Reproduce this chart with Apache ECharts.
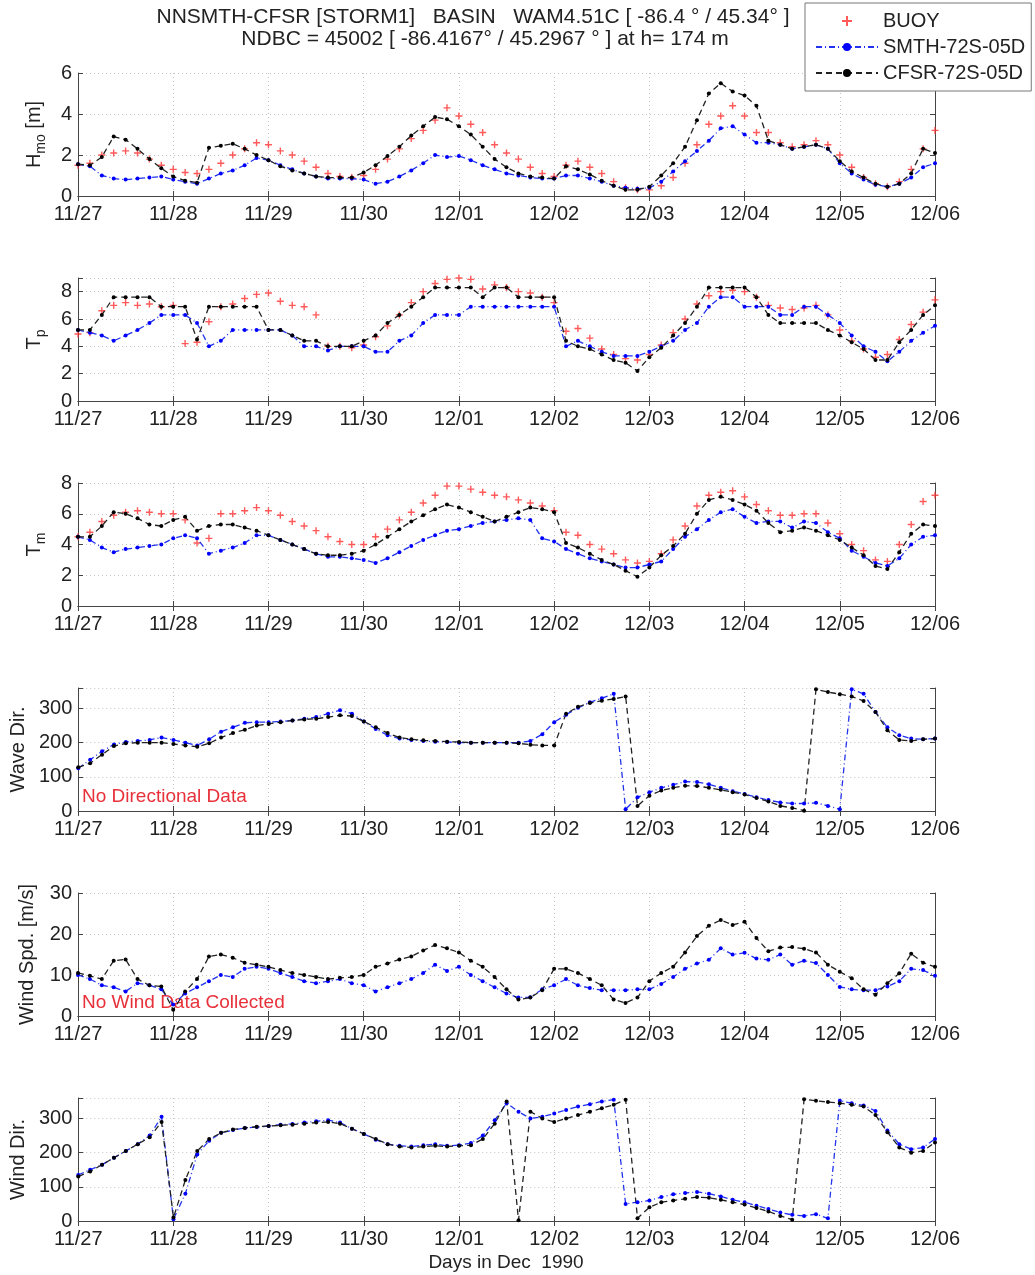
<!DOCTYPE html>
<html>
<head>
<meta charset="utf-8">
<title>NNSMTH-CFSR STORM1 - NDBC 45002</title>
<script src="https://cdn.jsdelivr.net/npm/echarts@6/dist/echarts.min.js"></script>
<style>
  html, body { margin: 0; padding: 0; background: #fff; }
  #main { width: 1035px; height: 1275px; }
</style>
</head>
<body>
<div id="main"></div>
<script>
// time axis: 3-hourly samples from 11/27 00h to 12/06 00h
const days = ['11/27', '11/28', '11/29', '11/30', '12/01', '12/02', '12/03', '12/04', '12/05', '12/06'];
const hours = ['00', '03', '06', '09', '12', '15', '18', '21'];

// significant wave height Hmo [m]
const hmoBuoy = [
  1.5, 1.6, 2.0, 2.1, 2.2, 2.1, 1.8, 1.5,
  1.3, 1.15, 1.1, 1.3, 1.6, 2.0, 2.3, 2.6,
  2.5, 2.2, 2.0, 1.7, 1.4, 1.1, 0.95, 0.9,
  1.0, 1.3, 1.8, 2.3, 2.8, 3.2, 3.7, 4.3,
  3.9, 3.5, 3.1, 2.5, 2.1, 1.8, 1.4, 1.1,
  0.95, 1.5, 1.7, 1.4, 1.1, 0.7, 0.4, 0.3,
  0.3, 0.5, 0.9, 1.6, 2.5, 3.5, 3.9, 4.4,
  3.9, 3.1, 3.1, 2.6, 2.4, 2.5, 2.7, 2.5,
  2.0, 1.4, 0.9, 0.6, 0.45, 0.7, 1.3, 2.3,
  3.2
];
const hmoSmth = [
  1.55, 1.45, 1.0, 0.85, 0.8, 0.85, 0.9, 0.95,
  0.8, 0.7, 0.6, 0.85, 1.1, 1.25, 1.5, 1.85,
  1.75, 1.5, 1.3, 1.1, 0.95, 0.85, 0.85, 0.85,
  0.8, 0.6, 0.7, 0.95, 1.25, 1.6, 2.0, 1.9,
  1.95, 1.75, 1.5, 1.3, 1.1, 1.0, 0.9, 0.85,
  0.85, 1.0, 1.0, 0.85, 0.7, 0.5, 0.4, 0.35,
  0.4, 0.7, 1.2, 1.7, 2.2, 2.7, 3.3, 3.4,
  3.0, 2.6, 2.6, 2.5, 2.3, 2.4, 2.5, 2.3,
  1.6, 1.1, 0.8, 0.55, 0.45, 0.6, 0.9, 1.4,
  1.6
];
const hmoCfsr = [
  1.55, 1.5, 1.9, 2.9, 2.75, 2.3, 1.8, 1.35,
  0.95, 0.75, 0.65, 2.35, 2.45, 2.55, 2.3, 2.0,
  1.75, 1.45, 1.25, 1.1, 0.95, 0.9, 0.9, 0.9,
  1.15, 1.5, 1.95, 2.4, 2.95, 3.4, 3.85, 3.75,
  3.4, 3.0, 2.4, 1.8, 1.4, 1.1, 0.95, 0.9,
  0.85, 1.45, 1.3, 1.05, 0.75, 0.5, 0.3, 0.3,
  0.45, 1.0, 1.6, 2.4, 3.7, 5.0, 5.5, 5.1,
  4.9, 4.4, 2.7, 2.5, 2.3, 2.4, 2.5, 2.3,
  1.7, 1.2, 0.9, 0.6, 0.45, 0.6, 1.1, 2.3,
  2.1
];

// peak period Tp [s]
const tpBuoy = [
  4.9, 5.0, 6.6, 7.0, 7.2, 7.0, 7.1, 6.9,
  7.0, 4.2, 4.3, 5.8, 6.9, 7.1, 7.5, 7.8,
  7.9, 7.3, 7.0, 6.9, 6.3, 4.0, 4.0, 3.9,
  4.1, 4.7, 5.5, 6.3, 7.2, 8.0, 8.6, 8.9,
  9.0, 8.9, 8.2, 8.5, 8.3, 8.0, 7.9, 7.6,
  7.2, 5.1, 5.3, 4.6, 3.8, 3.4, 3.1, 3.0,
  3.4, 4.1, 5.0, 6.0, 7.1, 7.7, 8.0, 8.1,
  8.0, 7.6, 7.0, 6.8, 6.7, 6.8, 7.0, 6.3,
  5.2, 4.4, 3.8, 3.2, 3.4, 4.5, 5.6, 6.5,
  7.4
];
const tpSmth = [
  5.2, 5.0, 4.8, 4.4, 4.8, 5.2, 5.7, 6.3,
  6.3, 6.3, 5.7, 4.0, 4.4, 5.2, 5.2, 5.2,
  5.2, 5.2, 4.8, 4.0, 4.0, 3.7, 4.0, 4.0,
  4.0, 3.6, 3.6, 4.4, 4.8, 5.7, 6.3, 6.3,
  6.3, 6.9, 6.9, 6.9, 6.9, 6.9, 6.9, 6.9,
  6.9, 4.0, 4.4, 4.0, 3.6, 3.3, 3.3, 3.3,
  3.6, 4.0, 4.4, 5.2, 5.7, 6.9, 7.6, 7.6,
  6.9, 6.9, 6.9, 6.3, 6.3, 6.9, 6.9, 6.3,
  5.7, 4.8, 4.0, 3.6, 2.9, 3.6, 4.4, 5.0,
  5.5
];
const tpCfsr = [
  5.2, 5.2, 6.3, 7.6, 7.6, 7.6, 7.6, 6.9,
  6.9, 6.9, 4.5, 6.9, 6.9, 6.9, 6.9, 6.9,
  5.2, 5.2, 4.8, 4.4, 4.4, 4.0, 4.0, 4.0,
  4.4, 4.8, 5.7, 6.3, 6.9, 7.6, 8.3, 8.3,
  8.3, 8.3, 7.6, 8.3, 8.3, 7.6, 7.6, 7.6,
  7.6, 4.4, 4.0, 3.8, 3.4, 3.0, 2.8, 2.2,
  3.2, 3.9, 4.8, 5.7, 6.9, 8.3, 8.3, 8.3,
  8.3, 7.6, 6.3, 5.7, 5.7, 5.7, 5.7, 5.2,
  4.8, 4.3, 3.8, 3.0, 3.0, 4.3, 5.2, 6.3,
  7.0
];

// mean period Tm [s]
const tmBuoy = [
  4.5, 4.8, 5.5, 5.9, 6.1, 6.2, 6.1, 6.0,
  6.0, 5.6, 4.1, 4.4, 6.0, 6.0, 6.2, 6.4,
  6.2, 5.9, 5.5, 5.2, 4.9, 4.5, 4.2, 4.0,
  4.0, 4.5, 5.0, 5.6, 6.1, 6.7, 7.2, 7.8,
  7.8, 7.6, 7.4, 7.2, 7.1, 6.9, 6.7, 6.5,
  6.2, 4.8, 4.6, 4.0, 3.7, 3.4, 3.0, 2.8,
  2.9, 3.4, 4.3, 5.2, 6.5, 7.2, 7.4, 7.5,
  7.1, 6.6, 6.2, 5.9, 5.9, 6.0, 6.0, 5.4,
  4.7, 4.0, 3.6, 3.0, 2.9, 4.0, 5.3, 6.8,
  7.2
];
const tmSmth = [
  4.5, 4.3, 3.8, 3.5, 3.7, 3.8, 3.9, 4.0,
  4.4, 4.6, 4.4, 3.4, 3.6, 3.8, 4.1, 4.6,
  4.6, 4.3, 4.0, 3.7, 3.4, 3.2, 3.2, 3.1,
  3.0, 2.8, 3.1, 3.5, 3.9, 4.3, 4.6, 4.9,
  5.0, 5.2, 5.4, 5.5, 5.6, 5.7, 5.6, 4.4,
  4.2, 3.7, 3.4, 3.1, 2.9, 2.7, 2.5, 2.5,
  2.7, 2.9, 3.7, 4.5, 5.0, 5.6, 6.1, 6.3,
  5.8, 5.4, 5.5, 5.5, 5.1, 5.5, 5.4, 4.8,
  4.4, 3.6, 3.2, 2.8, 2.6, 3.1, 4.0, 4.5,
  4.6
];
const tmCfsr = [
  4.5, 4.5, 5.2, 6.1, 6.0, 5.7, 5.3, 5.2,
  5.6, 5.8, 4.9, 5.2, 5.3, 5.3, 5.1, 4.9,
  4.6, 4.3, 4.0, 3.7, 3.4, 3.3, 3.3, 3.4,
  3.6, 4.0, 4.5, 5.0, 5.5, 5.9, 6.3, 6.6,
  6.4, 6.1, 5.8, 5.5, 5.8, 6.1, 6.4, 6.3,
  6.1, 4.1, 3.8, 3.4, 3.0, 2.7, 2.3, 1.9,
  2.5, 3.3, 3.9, 4.7, 6.0, 6.9, 7.1, 6.9,
  6.6, 6.2, 5.4, 4.8, 4.9, 5.1, 4.9, 4.6,
  4.3, 3.8, 3.3, 2.6, 2.4, 3.5, 4.7, 5.3,
  5.2
];

// mean wave direction [deg] (no buoy data)
const wdirSmth = [
  125, 150, 175, 195, 202, 205, 208, 215,
  208, 200, 192, 210, 232, 245, 258, 260,
  260, 262, 265, 270, 275, 285, 295, 285,
  262, 240, 222, 212, 208, 205, 203, 202,
  200, 200, 200, 200, 200, 200, 205, 225,
  260, 282, 302, 318, 330, 343, 5, 40,
  55, 68, 77, 86, 85, 78, 68, 58,
  50, 40, 32, 25, 22, 22, 24, 15,
  5, 356, 343, 290, 245, 222, 212, 210,
  212
];
const wdirCfsr = [
  128, 140, 165, 190, 198, 200, 200, 200,
  196, 192, 188, 198, 215, 228, 238, 250,
  255, 260, 265, 268, 270, 275, 280, 278,
  262, 245, 228, 215, 210, 207, 205, 203,
  202, 200, 200, 200, 200, 198, 194, 192,
  192, 285, 305, 316, 323, 328, 335, 15,
  45, 60, 68, 74, 73, 68, 62, 55,
  48, 38, 28, 15, 9, 1, 356, 348,
  342, 335, 322, 290, 236, 208, 205, 210,
  212
];

// wind speed [m/s] (no buoy data)
const wspdSmth = [
  10.0, 9.0, 7.5, 7.0, 6.0, 8.0, 7.5, 6.5,
  2.8, 5.5, 7.0, 8.5, 10.0, 9.5, 11.5, 12.0,
  11.5, 10.5, 9.5, 8.5, 8.0, 8.5, 9.0, 8.0,
  7.5, 6.0, 7.0, 8.0, 9.0, 10.5, 12.5, 11.0,
  12.0, 10.0, 8.5, 7.0, 5.5, 4.5, 4.6, 6.5,
  7.5, 9.0, 7.5, 6.8, 6.3, 6.3, 6.3, 6.5,
  6.5, 7.8, 9.5, 11.5, 12.8, 13.7, 16.5, 15.0,
  15.4, 14.0, 13.7, 15.0, 12.5, 13.5, 12.9, 10.0,
  7.1, 6.5, 6.3, 6.3, 7.2, 8.5, 11.5, 11.2,
  9.8
];
const wspdCfsr = [
  10.5, 9.8, 9.0, 13.5, 13.8, 9.0, 7.5, 7.2,
  1.5, 6.0, 9.0, 14.5, 15.0, 14.2, 13.0, 12.5,
  12.0, 11.2, 10.5, 10.0, 9.5, 9.0, 9.3, 9.5,
  10.0, 12.0, 12.8, 13.8, 14.5, 16.0, 17.3, 16.5,
  15.5, 13.5, 12.0, 9.5, 6.5, 4.0, 4.5, 6.3,
  11.5, 11.5, 10.5, 9.0, 7.5, 4.0, 3.2, 4.5,
  8.5, 10.5, 12.0, 15.5, 19.5, 22.0, 23.4, 22.2,
  23.0, 19.0, 15.8, 16.7, 16.8, 16.4, 15.5, 12.5,
  10.8, 9.2, 6.5, 5.2, 8.0, 10.4, 15.2, 13.0,
  12.0
];

// wind direction [deg] (no buoy data)
const windDirSmth = [
  135, 150, 165, 185, 205, 225, 250, 305,
  5, 80, 195, 235, 258, 266, 272, 275,
  278, 282, 284, 288, 292, 295, 288, 270,
  255, 238, 225, 220, 218, 222, 225, 220,
  222, 228, 250, 295, 345, 320, 300, 305,
  315, 325, 335, 342, 350, 355, 50, 55,
  60, 70, 78, 82, 85, 80, 72, 62,
  55, 45, 35, 25, 18, 15, 20, 8,
  352, 345, 338, 322, 265, 225, 210, 215,
  240
];
const windDirCfsr = [
  130, 145, 165, 185, 205, 225, 245, 290,
  10, 120, 205, 240, 258, 268, 272, 276,
  278, 280, 282, 285, 288, 290, 285, 270,
  255, 240, 225, 218, 215, 218, 220, 218,
  220, 222, 240, 285, 350, 2, 320, 300,
  290, 300, 310, 320, 330, 340, 355, 8,
  40, 55, 60, 65, 70, 68, 62, 55,
  48, 38, 28, 15, 4, 356, 352, 348,
  345, 340, 335, 310, 260, 215, 200, 205,
  230
];

const stamps = [];
days.slice(0, -1).forEach(d => hours.forEach(h => stamps.push(d + ' ' + h)));
stamps.push(days[days.length - 1] + ' 00');

const FONT = '"Liberation Sans", Arial, sans-serif';
const INK = '#222';
const BOX = '#444';

const panels = [
  { name: '{a|H}{s|mo}{a| [m]}', max: 6, step: 2, gap: 30, buoy: hmoBuoy, smth: hmoSmth, cfsr: hmoCfsr },
  { name: '{a|T}{s|p}', max: 9, step: 2, gap: 30, buoy: tpBuoy, smth: tpSmth, cfsr: tpCfsr },
  { name: '{a|T}{s|m}', max: 8, step: 2, gap: 30, buoy: tmBuoy, smth: tmSmth, cfsr: tmCfsr },
  { name: '{a|Wave Dir.}', max: 360, step: 100, gap: 37, smth: wdirSmth, cfsr: wdirCfsr },
  { name: '{a|Wind Spd. [m/s]}', max: 30, step: 10, gap: 37, smth: wspdSmth, cfsr: wspdCfsr },
  { name: '{a|Wind Dir.}', max: 360, step: 100, gap: 37, smth: windDirSmth, cfsr: windDirCfsr }
];

const plus = 'path://M4,0H6V4H10V6H6V10H4V6H0V4H4Z';

const grid = [], xAxis = [], yAxis = [], series = [];

panels.forEach((p, k) => {
  grid.push({ left: 78, width: 857, top: 73 + 205 * k, height: 123 });

  const tick = { show: true, inside: true, length: 5, interval: 7, lineStyle: { color: BOX } };
  xAxis.push({
    gridIndex: k, type: 'category', data: stamps, boundaryGap: false, position: 'bottom',
    axisLine: { show: true, lineStyle: { color: BOX, width: 1 } },
    axisTick: tick,
    axisLabel: { interval: 7, margin: 8, color: INK, fontSize: 20, fontFamily: FONT,
      formatter: v => v.slice(0, 5) },
    splitLine: { show: true, interval: 7, lineStyle: { color: '#c4c4c4', type: [1, 3] } }
  });
  xAxis.push({
    gridIndex: k, type: 'category', data: stamps, boundaryGap: false, position: 'top',
    axisLine: { show: true, lineStyle: { color: BOX, width: 1 } },
    axisTick: tick, axisLabel: { show: false }, splitLine: { show: false }
  });

  const ytick = { show: true, inside: true, length: 5, lineStyle: { color: BOX } };
  yAxis.push({
    gridIndex: k, type: 'value', min: 0, max: p.max, interval: p.step, position: 'left',
    name: p.name, nameLocation: 'middle', nameRotate: 90, nameGap: p.gap,
    nameTextStyle: {
      rich: {
        a: { fontSize: 20, fontFamily: FONT, color: INK, lineHeight: 28, verticalAlign: 'middle' },
        s: { fontSize: 14, fontFamily: FONT, color: INK, lineHeight: 14, verticalAlign: 'bottom' }
      }
    },
    axisLine: { show: true, lineStyle: { color: BOX, width: 1 } },
    axisTick: ytick,
    axisLabel: { margin: 6, color: INK, fontSize: 20, fontFamily: FONT,
      formatter: v => (v % p.step === 0 ? String(v) : '') },
    splitLine: { show: true, lineStyle: { color: '#c4c4c4', type: [1, 3] } }
  });
  yAxis.push({
    gridIndex: k, type: 'value', min: 0, max: p.max, interval: p.step, position: 'right',
    axisLine: { show: true, lineStyle: { color: BOX, width: 1 } },
    axisTick: ytick, axisLabel: { show: false }, splitLine: { show: false }
  });

  if (p.buoy) {
    series.push({
      name: 'BUOY', type: 'scatter', xAxisIndex: 2 * k, yAxisIndex: 2 * k,
      symbol: plus, symbolSize: 7,
      itemStyle: { color: '#ff3030', opacity: 0.8 },
      data: p.buoy
    });
  }
  series.push({
    name: 'SMTH-72S-05D', type: 'line', xAxisIndex: 2 * k, yAxisIndex: 2 * k,
    symbol: 'circle', symbolSize: 4, showAllSymbol: true,
    lineStyle: { color: '#2233ee', width: 1.3, type: [6, 3, 1, 3] },
    itemStyle: { color: '#0000ff' },
    data: p.smth
  });
  series.push({
    name: 'CFSR-72S-05D', type: 'line', xAxisIndex: 2 * k, yAxisIndex: 2 * k,
    symbol: 'circle', symbolSize: 4, showAllSymbol: true,
    lineStyle: { color: '#222', width: 1.3, type: [6, 4] },
    itemStyle: { color: '#000' },
    data: p.cfsr
  });
});

const label = (text, x, y, extra) => ({
  type: 'text', x: x, y: y, silent: true,
  style: Object.assign({ text: text, fill: INK, font: '21px ' + FONT,
    align: 'center', verticalAlign: 'middle' }, extra || {})
});

const chart = echarts.init(document.getElementById('main'), null, { renderer: 'canvas' });
chart.setOption({
  animation: false,
  backgroundColor: '#fff',
  grid: grid,
  xAxis: xAxis,
  yAxis: yAxis,
  series: series,
  legend: {
    orient: 'vertical', left: 805, top: 3,
    data: ['BUOY', 'SMTH-72S-05D', 'CFSR-72S-05D'],
    itemWidth: 62, itemHeight: 10, itemGap: 6,
    padding: [8, 6, 8, 10],
    backgroundColor: '#fff', borderColor: '#777', borderWidth: 1,
    textStyle: { fontSize: 20, fontFamily: FONT, color: INK }
  },
  graphic: [
    label('NNSMTH-CFSR [STORM1]   BASIN   WAM4.51C [ -86.4 \u00b0 / 45.34\u00b0 ]', 473, 17),
    label('NDBC = 45002 [ -86.4167\u00b0 / 45.2967 \u00b0 ] at h= 174 m', 485, 39),
    label('No Directional Data', 82, 797, { fill: '#e8303a', align: 'left', font: '19px ' + FONT }),
    label('No Wind Data Collected', 82, 1003, { fill: '#e8303a', align: 'left', font: '19px ' + FONT }),
    label('Days in Dec  1990', 506, 1263, { font: '19px ' + FONT })
  ]
});
window.addEventListener('resize', () => chart.resize());
</script>
</body>
</html>
